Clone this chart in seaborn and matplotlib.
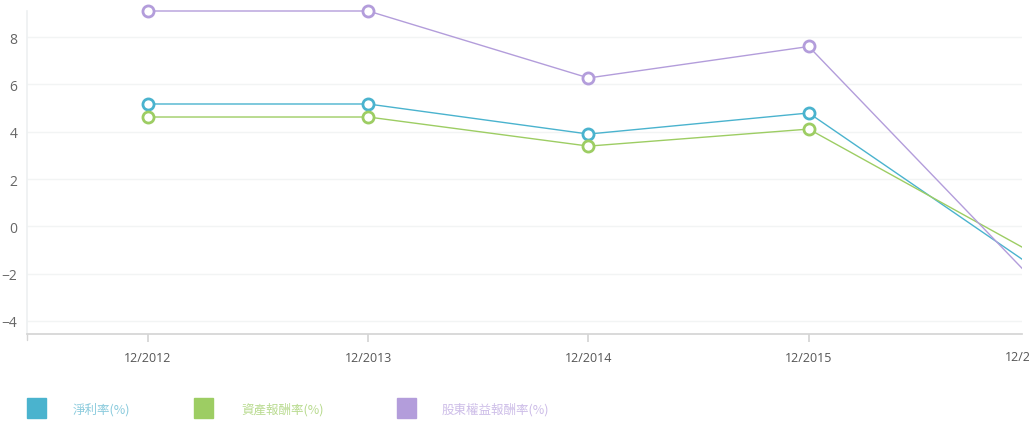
import numpy as np
import pandas as pd
import matplotlib.pyplot as plt
import seaborn as sns
from matplotlib.patches import Rectangle
from matplotlib.transforms import Bbox

periods = ['12/2012', '12/2013', '12/2014', '12/2015', '12/2016']
net_margin = [5.17, 5.17, 3.90, 4.79, -1.59]
roa = [4.62, 4.62, 3.39, 4.11, -1.04]
roe = [9.10, 9.10, 6.27, 7.60, -2.08]
series_names = ['淨利率(%)', '資產報酬率(%)', '股東權益報酬率(%)']
colors = ['#4AB3CE', '#9DCD63', '#B39DDB']
y_ticks = [-4, -2, 0, 2, 4, 6, 8]

df = pd.DataFrame({
    'period': periods * 3,
    'value': net_margin + roa + roe,
    'series': np.repeat(series_names, len(periods)),
})
df['pos'] = df['period'].map({p: i for i, p in enumerate(periods)})

sns.set_theme(style='white')
plt.rcParams['font.family'] = ['Open Sans', 'Noto Sans CJK TC', 'DejaVu Sans']

W, H = 1029, 427
fig = plt.figure(figsize=(W / 100, H / 100), dpi=100)
# plot area is cut at x=1022, just before the last period, as in the original
ax = fig.add_axes([27 / W, 92 / H, 995 / W, 323 / H])

sns.lineplot(data=df, x='pos', y='value', hue='series', palette=colors,
             linewidth=1, marker='o', markersize=8, markerfacecolor='white',
             markeredgewidth=2, legend=False, ax=ax)

# clip only on the right (markers at the top may overhang the axes)
clip = Bbox.from_extents(0, 0, 1022, H)
for line in ax.lines:
    line.set_markeredgecolor(line.get_color())
    line.set_markevery(list(range(len(periods) - 1)))
    line.set_clip_on(True)
    line.set_clip_box(clip)

step = 220.3
ax.set_xlim(-121 / step, 4 - 7 / step)
ax.set_ylim(-4.55, 9.1)
ax.set_yticks(y_ticks)
ax.set_xticks(range(len(periods) - 1))
ax.set_xticklabels(periods[:-1])
ax.set_xlabel('')
ax.set_ylabel('')

for v in y_ticks:
    ax.axhline(v, color='#F2F4F4', lw=1, zorder=0)

for side in ['top', 'right']:
    ax.spines[side].set_visible(False)
ax.spines['left'].set_color('#EEF1F2')
ax.spines['bottom'].set_color('#D5D5D5')
ax.tick_params(axis='y', length=0, pad=7, labelsize=10, labelcolor='#666666')
ax.tick_params(axis='x', length=6, color='#D5D5D5', pad=6, labelsize=9,
               labelcolor='#555555', direction='out', bottom=True)

# extra tick at the left end of the x axis
ax.plot([-121 / step] * 2, [0, -0.018], transform=ax.get_xaxis_transform(),
        color='#D5D5D5', lw=1, clip_on=False)

# label of the last period, running off the figure edge
ax.text(len(periods) - 1, -0.05, periods[-1], transform=ax.get_xaxis_transform(),
        ha='center', va='top', fontsize=9, color='#555555', clip_on=False)

# legend
sq_x = [27, 194, 397]
txt_x = [73, 241, 442]
text_colors = ['#8BCBDD', '#B9DB90', '#CDBDE8']
for sx, tx, c, tc, name in zip(sq_x, txt_x, colors, text_colors, series_names):
    fig.patches.append(Rectangle((sx / W, (H - 419) / H), 19 / W, 20 / H,
                                 transform=fig.transFigure, color=c))
    fig.text(tx / W, (H - 410) / H, name, color=tc, fontsize=9, va='center',
             family=['Noto Sans CJK TC', 'DejaVu Sans'])

fig.savefig('out.png', dpi=100)
